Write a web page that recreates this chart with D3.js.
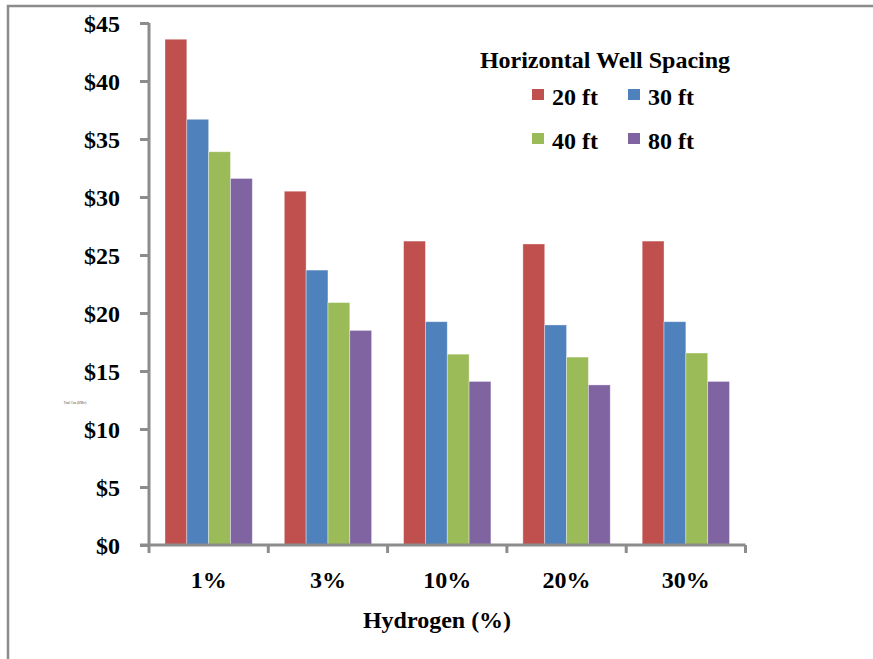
<!DOCTYPE html>
<html><head><meta charset="utf-8">
<script src="https://cdn.jsdelivr.net/npm/d3@7"></script>
<style>html,body{margin:0;padding:0;background:#fff;}svg{display:block;}</style>
</head><body>
<script>
const categories = ["1%", "3%", "10%", "20%", "30%"];
const seriesNames = ["20 ft", "30 ft", "40 ft", "80 ft"];
const s20 = [43.6, 30.5, 26.2, 25.95, 26.2];
const s30 = [36.7, 23.7, 19.25, 18.97, 19.25];
const s40 = [33.9, 20.9, 16.45, 16.2, 16.55];
const s80 = [31.6, 18.5, 14.1, 13.8, 14.1];
const yTicks = [0, 5, 10, 15, 20, 25, 30, 35, 40, 45];
const colors = ["#C0504D", "#4F81BD", "#9BBB59", "#8064A2"];
const series = [s20, s30, s40, s80];

const W = 873, H = 659;
const svg = d3.select("body").append("svg").attr("width", W).attr("height", H);
const font = "'Liberation Serif','Times New Roman',serif";

// outer frame (extends past window)
svg.append("rect").attr("x", 8).attr("y", 6).attr("width", 900).attr("height", 700)
  .attr("fill", "none").attr("stroke", "#8c8c8c").attr("stroke-width", 2.5);

const x0 = d3.scaleBand().domain(categories).range([149, 745.5]).paddingInner(0).paddingOuter(0);
const y = d3.scaleLinear().domain([0, 45]).range([545, 23]);
const barW = x0.bandwidth() * 0.183;
const x1 = d3.scaleBand().domain(seriesNames).range([0, barW * 4]);
const groupOff = (x0.bandwidth() - barW * 4) / 2;

// bars
series.forEach((vals, si) => {
  svg.append("g").selectAll("rect").data(vals).join("rect")
    .attr("x", (d, i) => x0(categories[i]) + groupOff + x1(seriesNames[si]))
    .attr("y", d => y(d))
    .attr("width", x1.bandwidth())
    .attr("height", d => y(0) - y(d))
    .attr("fill", colors[si])
    .attr("stroke", "rgba(255,255,255,0.45)").attr("stroke-width", 0.8);
});

// y axis
const yAxis = svg.append("g").attr("transform", "translate(149,0)")
  .call(d3.axisLeft(y).tickValues(yTicks).tickSize(9).tickFormat(d => "$" + d));
yAxis.select(".domain").attr("stroke", "#8c8c8c").attr("stroke-width", 3).attr("d", "M0,23V545");
yAxis.selectAll(".tick line").attr("stroke", "#8c8c8c").attr("stroke-width", 3);
yAxis.selectAll(".tick text").attr("x", -29).attr("dy", "0.35em")
  .style("font-family", font).style("font-weight", "bold").style("font-size", "24px").attr("fill", "#000");

// x axis
const xAxis = svg.append("g").attr("transform", "translate(0,545)")
  .call(d3.axisBottom(x0).tickSize(0).tickFormat(d => d));
xAxis.select(".domain").attr("stroke", "#8c8c8c").attr("stroke-width", 3).attr("d", "M140,0H745.5");
xAxis.selectAll(".tick text").attr("y", 35).attr("dy", "0.35em")
  .style("font-family", font).style("font-weight", "bold").style("font-size", "24px").attr("fill", "#000");
const bounds = categories.map(c => x0(c)).concat([x0(categories[categories.length - 1]) + x0.bandwidth()]);
xAxis.append("g").selectAll("line").data(bounds).join("line")
  .attr("x1", d => d).attr("x2", d => d).attr("y1", 0).attr("y2", 8)
  .attr("stroke", "#8c8c8c").attr("stroke-width", 3);

// axis title
svg.append("text").attr("x", 437).attr("y", 628).attr("text-anchor", "middle")
  .style("font-family", font).style("font-weight", "bold").style("font-size", "24px")
  .text("Hydrogen (%)");

// tiny y title
svg.append("text").attr("x", 75).attr("y", 404).attr("text-anchor", "middle")
  .style("font-family", font).style("font-size", "3px").attr("fill", "#444")
  .text("Total Cost ($/Mcf)");

// legend
svg.append("text").attr("x", 605).attr("y", 68).attr("text-anchor", "middle")
  .style("font-family", font).style("font-weight", "bold").style("font-size", "24px")
  .text("Horizontal Well Spacing");
const legPos = [[532, 89], [628, 89], [532, 133], [628, 133]];
seriesNames.forEach((n, i) => {
  const g = svg.append("g").attr("transform", `translate(${legPos[i][0]},${legPos[i][1]})`);
  g.append("rect").attr("width", 12).attr("height", 11).attr("fill", colors[i]);
  g.append("text").attr("x", 20).attr("y", 16)
    .style("font-family", font).style("font-weight", "bold").style("font-size", "24px")
    .text(n);
});
</script>
</body></html>
